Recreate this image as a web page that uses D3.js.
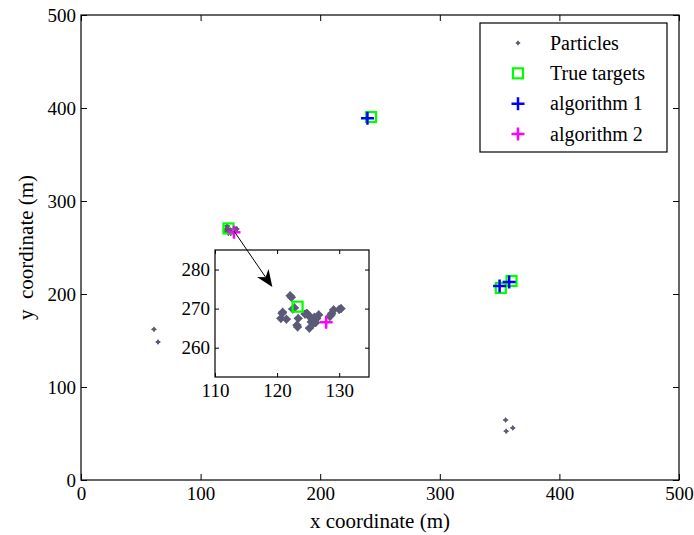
<!DOCTYPE html>
<html>
<head>
<meta charset="utf-8">
<script src="https://cdn.jsdelivr.net/npm/d3@7"></script>
<style>
  body { margin: 0; background: #fff; }
  svg { display: block; font-family: "Liberation Serif", serif; }
  svg text { font-family: "Liberation Serif", serif !important; }
</style>
</head>
<body>
<svg id="chart" width="694" height="535"></svg>
<script>
// ---- data ----
const particleX = [61, 64.4, 355, 355.5, 361,
  122.3, 122.1, 120.8, 120.6, 121.5, 120.9, 122.5, 122.8,
  123.4, 123.3, 123.2, 124.8, 125.2, 124.5, 125.0,
  125.9, 126.4, 125.8, 125.5, 126.2, 125.2, 126.7, 126.0,
  128.5, 128.8, 129.1, 128.7, 130.3, 130.0];
const particleY = [162, 148.4, 64.5, 52.5, 56,
  272.9, 273.3, 268.8, 267.5, 267.3, 269.1, 269.9, 270.2,
  267.5, 265.3, 265.8, 268.8, 268.0, 268.6, 268.4,
  267.1, 267.5, 266.1, 266.6, 266.4, 265.0, 268.4, 267.8,
  268.0, 268.8, 269.7, 268.4, 270.0, 269.8];
const trueX = [242.5, 123.3, 351, 360];
const trueY = [390.3, 270.5, 206.5, 214];
const alg1X = [239.5, 350, 358];
const alg1Y = [389, 208.5, 213];
const alg2X = [127.9];
const alg2Y = [266.5];
const mainTicks = [0, 100, 200, 300, 400, 500];
const insetXTicks = [110, 120, 130];
const insetYTicks = [260, 270, 280];
const arrowFrom = [128, 267.5];
const arrowTo = [160, 207.5];
const legendLabels = ["Particles", "True targets", "algorithm 1", "algorithm 2"];

// ---- styles ----
const fontFamily = "Liberation Serif, serif";
const particleColor = "#5b5b78";
const trueColor = "#00ff00";
const alg1Color = "#0000ff";
const alg2Color = "#ff00ff";

const svg = d3.select("#chart");

// ---- main axes ----
const box = { left: 81, right: 679, top: 15, bottom: 480 };
const x = d3.scaleLinear([0, 500], [box.left, box.right]);
const y = d3.scaleLinear([0, 500], [box.bottom, box.top]);

function styleAxis(g, size) {
  g.attr("font-family", fontFamily).attr("font-size", size);
  g.select(".domain").remove();
  g.selectAll(".tick line").attr("stroke", "#000");
  g.selectAll(".tick text").attr("fill", "#000")
    .attr("font-family", fontFamily).attr("font-size", size);
}

svg.append("g").attr("transform", `translate(0,${box.bottom})`)
  .call(d3.axisBottom(x).tickValues(mainTicks).tickSizeInner(-6).tickSizeOuter(0).tickPadding(7))
  .call(g => styleAxis(g, 19));
svg.append("g").attr("transform", `translate(${box.left},0)`)
  .call(d3.axisLeft(y).tickValues(mainTicks).tickSizeInner(-6).tickSizeOuter(0).tickPadding(5))
  .call(g => styleAxis(g, 19));
svg.append("g").attr("transform", `translate(0,${box.top})`)
  .call(d3.axisTop(x).tickValues(mainTicks).tickSizeInner(-6).tickSizeOuter(0).tickFormat(""))
  .call(g => styleAxis(g, 19));
svg.append("g").attr("transform", `translate(${box.right},0)`)
  .call(d3.axisRight(y).tickValues(mainTicks).tickSizeInner(-6).tickSizeOuter(0).tickFormat(""))
  .call(g => styleAxis(g, 19));
svg.append("rect")
  .attr("x", box.left).attr("y", box.top)
  .attr("width", box.right - box.left).attr("height", box.bottom - box.top)
  .attr("fill", "none").attr("stroke", "#000").attr("stroke-width", 1.2);

svg.append("text")
  .attr("x", (box.left + box.right) / 2).attr("y", 528)
  .attr("text-anchor", "middle").attr("font-size", 21)
  .text("x coordinate (m)");
svg.append("text")
  .attr("transform", `translate(33,${(box.top + box.bottom) / 2}) rotate(-90)`)
  .attr("text-anchor", "middle").attr("font-size", 21)
  .style("white-space", "pre")
  .text("y  coordinate (m)");

// ---- marker helpers ----
function particle(g, cx, cy, r) {
  g.append("path")
    .attr("d", `M${cx - r},${cy}L${cx},${cy - r}L${cx + r},${cy}L${cx},${cy + r}Z`)
    .attr("fill", particleColor)
    .attr("stroke", particleColor).attr("stroke-width", r * 0.5).attr("stroke-linejoin", "round");
  g.append("path")
    .attr("d", `M${cx - r * 1.3},${cy}H${cx + r * 1.3}M${cx},${cy - r * 1.3}V${cy + r * 1.3}`)
    .attr("stroke", particleColor).attr("stroke-width", 1);
}
function square(g, cx, cy, s) {
  g.append("rect").attr("x", cx - s / 2).attr("y", cy - s / 2)
    .attr("width", s).attr("height", s)
    .attr("fill", "none").attr("stroke", trueColor).attr("stroke-width", 2.2);
}
function plus(g, cx, cy, s, color) {
  g.append("path")
    .attr("d", `M${cx - s / 2},${cy}H${cx + s / 2}M${cx},${cy - s / 2}V${cy + s / 2}`)
    .attr("stroke", color).attr("stroke-width", 2.5);
}

function drawSeries(g, sx, sy, pr) {
  particleX.forEach((v, i) => particle(g, sx(v), sy(particleY[i]), pr));
  trueX.forEach((v, i) => square(g, sx(v), sy(trueY[i]), 10));
  alg1X.forEach((v, i) => plus(g, sx(v), sy(alg1Y[i]), 13, alg1Color));
  alg2X.forEach((v, i) => plus(g, sx(v), sy(alg2Y[i]), 13, alg2Color));
}

const mainLayer = svg.append("g");
drawSeries(mainLayer, x, y, 2);

// ---- inset ----
const ibox = { left: 215, right: 369, top: 250, bottom: 377 };
const xi = d3.scaleLinear([110, 134.8], [ibox.left, ibox.right]);
const yi = d3.scaleLinear([252.5, 285], [ibox.bottom, ibox.top]);

svg.append("rect")
  .attr("x", ibox.left).attr("y", ibox.top)
  .attr("width", ibox.right - ibox.left).attr("height", ibox.bottom - ibox.top)
  .attr("fill", "#fff");
svg.append("clipPath").attr("id", "insetClip").append("rect")
  .attr("x", ibox.left).attr("y", ibox.top)
  .attr("width", ibox.right - ibox.left).attr("height", ibox.bottom - ibox.top);

const insetLayer = svg.append("g").attr("clip-path", "url(#insetClip)");
drawSeries(insetLayer, xi, yi, 3.4);

svg.append("g").attr("transform", `translate(0,${ibox.bottom})`)
  .call(d3.axisBottom(xi).tickValues(insetXTicks).tickSizeInner(-4).tickSizeOuter(0).tickPadding(7))
  .call(g => styleAxis(g, 19));
svg.append("g").attr("transform", `translate(${ibox.left},0)`)
  .call(d3.axisLeft(yi).tickValues(insetYTicks).tickSizeInner(-4).tickSizeOuter(0).tickPadding(5))
  .call(g => styleAxis(g, 19));
svg.append("g").attr("transform", `translate(0,${ibox.top})`)
  .call(d3.axisTop(xi).tickValues(insetXTicks).tickSizeInner(-4).tickSizeOuter(0).tickFormat(""))
  .call(g => styleAxis(g, 19));
svg.append("g").attr("transform", `translate(${ibox.right},0)`)
  .call(d3.axisRight(yi).tickValues(insetYTicks).tickSizeInner(-4).tickSizeOuter(0).tickFormat(""))
  .call(g => styleAxis(g, 19));
svg.append("rect")
  .attr("x", ibox.left).attr("y", ibox.top)
  .attr("width", ibox.right - ibox.left).attr("height", ibox.bottom - ibox.top)
  .attr("fill", "none").attr("stroke", "#000").attr("stroke-width", 1.2);

// ---- zoom arrow (drawn over the inset) ----
(function () {
  const x0 = x(arrowFrom[0]), y0 = y(arrowFrom[1]);
  const x1 = x(arrowTo[0]), y1 = y(arrowTo[1]);
  const len = Math.hypot(x1 - x0, y1 - y0);
  const ux = (x1 - x0) / len, uy = (y1 - y0) / len;
  const nx = -uy, ny = ux;
  const L = 17, w = 7, notch = 5;
  svg.append("line")
    .attr("x1", x0).attr("y1", y0)
    .attr("x2", x1 - ux * (L - notch)).attr("y2", y1 - uy * (L - notch))
    .attr("stroke", "#000").attr("stroke-width", 1);
  const pts = [
    [x1, y1],
    [x1 - ux * L + nx * w, y1 - uy * L + ny * w],
    [x1 - ux * (L - notch), y1 - uy * (L - notch)],
    [x1 - ux * L - nx * w, y1 - uy * L - ny * w]
  ];
  svg.append("path").attr("d", "M" + pts.map(p => p.join(",")).join("L") + "Z")
    .attr("fill", "#000");
})();

// ---- legend ----
const lg = svg.append("g");
lg.append("rect").attr("x", 480).attr("y", 23).attr("width", 187).attr("height", 129)
  .attr("fill", "#fff").attr("stroke", "#000").attr("stroke-width", 1.2);
const rowY = d3.scalePoint(legendLabels, [43, 134]);
const mx = 518;
particle(lg, mx, rowY(legendLabels[0]), 1.8);
square(lg, mx, rowY(legendLabels[1]), 10);
plus(lg, mx, rowY(legendLabels[2]), 13, alg1Color);
plus(lg, mx, rowY(legendLabels[3]), 13, alg2Color);
lg.selectAll("text.lbl").data(legendLabels).join("text")
  .attr("class", "lbl")
  .attr("x", 550).attr("y", d => rowY(d)).attr("dy", "0.33em")
  .attr("font-size", 20).attr("fill", "#000")
  .text(d => d);
</script>
</body>
</html>
